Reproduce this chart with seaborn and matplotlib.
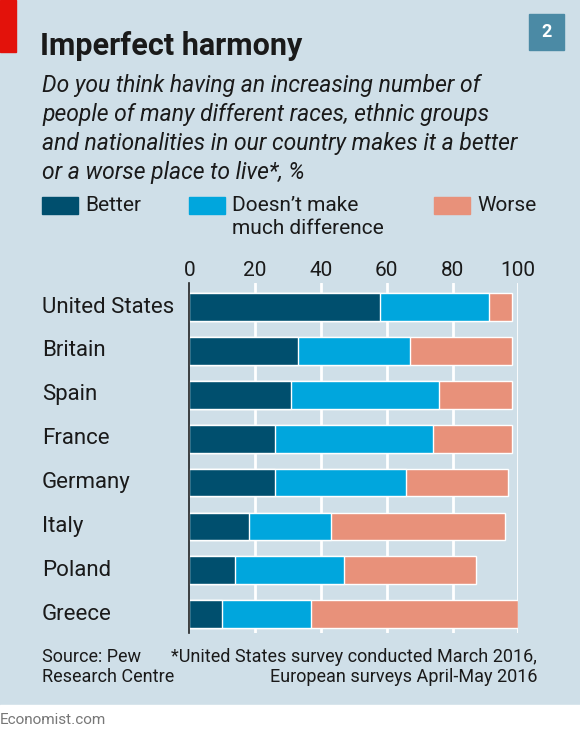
import matplotlib
matplotlib.use("Agg")
import matplotlib.pyplot as plt
import matplotlib.transforms as mtransforms
from matplotlib.patches import Rectangle
import seaborn as sns
import pandas as pd

countries = ["United States", "Britain", "Spain", "France", "Germany", "Italy", "Poland", "Greece"]
better = [58, 33, 31, 26, 26, 18, 14, 10]
no_diff = [33, 34, 45, 48, 40, 25, 33, 27]
worse = [7, 31, 22, 24, 31, 53, 40, 63]
xticks = [0, 20, 40, 60, 80, 100]

BG = "#cfdfe8"
C_BETTER = "#004f6e"
C_NODIFF = "#00a6dd"
C_WORSE = "#e8917a"
TXT = "#1a1a1a"

sns.set_theme(style="white")
plt.rcParams["font.family"] = ["Roboto", "DejaVu Sans"]

df = pd.DataFrame({"country": countries, "better": better, "no_diff": no_diff, "worse": worse})
df["c1"] = df["better"]
df["c2"] = df["better"] + df["no_diff"]
df["c3"] = df["better"] + df["no_diff"] + df["worse"]

fig = plt.figure(figsize=(5.8, 7.42), dpi=100)
fig.patch.set_facecolor(BG)
W, H = 580, 742

def fx(x):
    return x / W

def fy(y):
    return 1 - y / H

# white strip at bottom
fig.patches.append(Rectangle((0, 0), 1, (H - 705) / H, transform=fig.transFigure, color="white", zorder=-5))
# red tag
fig.patches.append(Rectangle((0, fy(52)), fx(16), 52 / H, transform=fig.transFigure, color="#e3120b", zorder=-5))
# number box
fig.patches.append(Rectangle((fx(529), fy(50)), fx(35), 36 / H, transform=fig.transFigure, color="#4b8aa5", zorder=-5))
fig.text(fx(546.5), fy(32), "2", color="white", fontsize=13, fontweight="bold", ha="center", va="center")

fig.text(fx(40), fy(46), "Imperfect harmony", fontsize=22, fontweight="bold", color=TXT, ha="left", va="center")
sub = ("Do you think having an increasing number of\n"
       "people of many different races, ethnic groups\n"
       "and nationalities in our country makes it a better\n"
       "or a worse place to live*, %")
fig.text(fx(42), fy(74), sub, fontsize=16.5, fontstyle="italic", color=TXT, ha="left", va="top", linespacing=1.33)

# legend
leg = [(42, C_BETTER, "Better"), (189, C_NODIFF, "Doesn\u2019t make\nmuch difference"), (434, C_WORSE, "Worse")]
for x0, c, lab in leg:
    fig.patches.append(Rectangle((fx(x0), fy(214)), fx(36), 17 / H, transform=fig.transFigure, color=c, zorder=-5))
    fig.text(fx(x0 + 43), fy(196), lab, fontsize=15, color=TXT, ha="left", va="top", linespacing=1.3)

ax = fig.add_axes([fx(189.3), fy(633), fx(329), 350 / H])
ax.set_facecolor(BG)
for xv in xticks[1:]:
    ax.axvline(xv, color="white", lw=2, zorder=0)

sns.barplot(data=df, y="country", x="c3", color=C_WORSE, orient="h", width=0.63, ax=ax, zorder=2, saturation=1)
sns.barplot(data=df, y="country", x="c2", color=C_NODIFF, orient="h", width=0.63, ax=ax, zorder=3, saturation=1)
sns.barplot(data=df, y="country", x="c1", color=C_BETTER, orient="h", width=0.63, ax=ax, zorder=4, saturation=1)

ax.set_xlim(0, 100)
ax.set_ylim(7.43, -0.55)
ax.set_xlabel("")
ax.set_ylabel("")
for s in ["top", "right", "bottom"]:
    ax.spines[s].set_visible(False)
ax.spines["left"].set_color("#222222")
ax.spines["left"].set_linewidth(1.2)
ax.spines["left"].set_zorder(5)
ax.xaxis.tick_top()
ax.set_xticks(xticks)
ax.set_xticklabels([str(t) for t in xticks], fontsize=15, color=TXT)
ax.tick_params(axis="x", length=0, pad=2)
ax.set_yticks([])

trans = mtransforms.blended_transform_factory(fig.transFigure, ax.transData)
for i, c in enumerate(countries):
    fig.text(fx(42), i, c, transform=trans, fontsize=16, color=TXT, ha="left", va="center")

fig.text(fx(42), fy(648), "Source: Pew\nResearch Centre", fontsize=13, color=TXT, ha="left", va="top", linespacing=1.15)
fig.text(fx(537), fy(648), "*United States survey conducted March 2016,\nEuropean surveys April-May 2016",
         fontsize=13, color=TXT, ha="right", va="top", linespacing=1.15, multialignment="right")
fig.text(fx(0), fy(720), "Economist.com", fontsize=11, color="#777777", ha="left", va="center")

fig.savefig("out.png", dpi=100, facecolor=fig.get_facecolor())
